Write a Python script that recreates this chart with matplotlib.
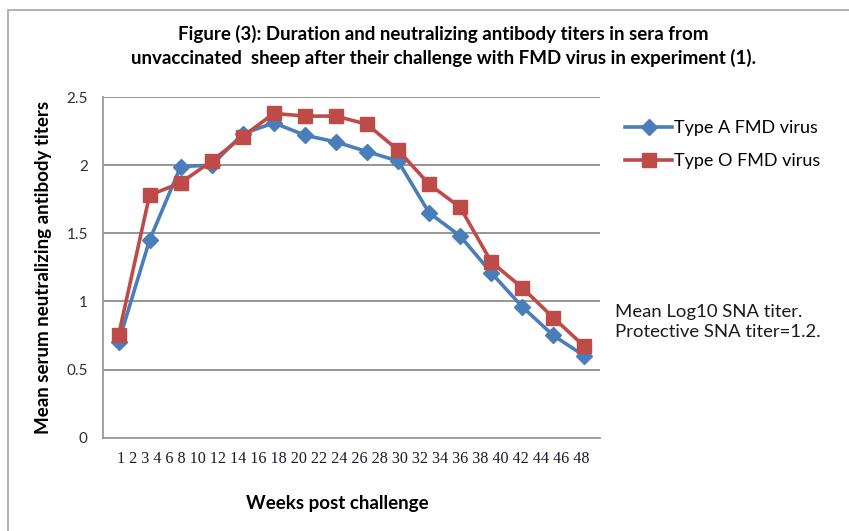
import matplotlib.pyplot as plt
from matplotlib.patches import Rectangle

# 16 sampling points (category axis)
points = list(range(16))
type_a = [0.70, 1.45, 1.99, 2.00, 2.23, 2.31, 2.22, 2.17, 2.10, 2.03, 1.65, 1.48, 1.21, 0.96, 0.75, 0.60]
type_o = [0.75, 1.78, 1.87, 2.03, 2.21, 2.38, 2.36, 2.36, 2.30, 2.11, 1.86, 1.69, 1.29, 1.10, 0.88, 0.67]
week_labels = ["1", "2", "3", "4", "6", "8", "10", "12", "14", "16", "18", "20", "22", "24",
               "26", "28", "30", "32", "34", "36", "38", "40", "42", "44", "46", "48"]
y_ticks = [0, 0.5, 1, 1.5, 2, 2.5]

plt.rcParams['font.family'] = ['Lato', 'DejaVu Sans']

fig = plt.figure(figsize=(8.49, 5.31), dpi=100)
ax = fig.add_axes([0.1213, 0.1757, 0.5854, 0.6416])

# outer chart frame
fig.patches.append(Rectangle((8/849, -0.05), 1.1, 1 - 10/531 + 0.05, transform=fig.transFigure,
                             fill=False, edgecolor='#a6a6a6', lw=1.2, clip_on=False))

blue = '#4a7ebb'
red = '#be4b48'
ax.plot(points, type_a, color=blue, lw=2.6, marker='D', ms=8, label='Type A FMD virus', zorder=3)
ax.plot(points, type_o, color=red, lw=2.6, marker='s', ms=10.5, label='Type O FMD virus', zorder=4)

ax.set_xlim(-0.5, 15.5)
ax.set_ylim(0, 2.5)
ax.set_yticks(y_ticks)
ax.set_yticklabels(['0', '0.5', '1', '1.5', '2', '2.5'], fontsize=11, color='#303030')
ax.set_xticks([])
ax.tick_params(axis='y', length=0, pad=11)
ax.yaxis.grid(True, color='#8c8c8c', lw=1.3)
ax.set_axisbelow(True)
for s in ['top', 'right']:
    ax.spines[s].set_visible(False)
for s in ['left', 'bottom']:
    ax.spines[s].set_color('#9a9a9a')
    ax.spines[s].set_linewidth(1.3)

ax.set_ylabel('Mean serum neutralizing antibody titers', fontsize=13.5, fontweight='bold', labelpad=10)

# week labels typed below the axis
fig.text(117/849, 1 - 459/531, ' '.join(week_labels), family=['Liberation Serif'],
         fontsize=11.6, ha='left', va='center', color='#1a1a2a')

fig.text(337/849, 1 - 503/531, 'Weeks post challenge', fontsize=13.5, fontweight='bold',
         ha='center', va='center')

fig.text(443/849, 1 - 46/531,
         'Figure (3): Duration and neutralizing antibody titers in sera from\n'
         'unvaccinated  sheep after their challenge with FMD virus in experiment (1).',
         fontsize=13.5, fontweight='bold', ha='center', va='center', linespacing=1.35)

fig.legend(loc='upper left', bbox_to_anchor=(609/849, 1 - 104/531), frameon=False,
           fontsize=13, handlelength=2.6, handletextpad=0.1, labelspacing=0.95)

fig.text(615/849, 1 - 322/531, 'Mean Log10 SNA titer.\nProtective SNA titer=1.2.',
         fontsize=13.3, ha='left', va='center', color='#1a1a1a', linespacing=1.3)

fig.savefig('out.png', dpi=100)
